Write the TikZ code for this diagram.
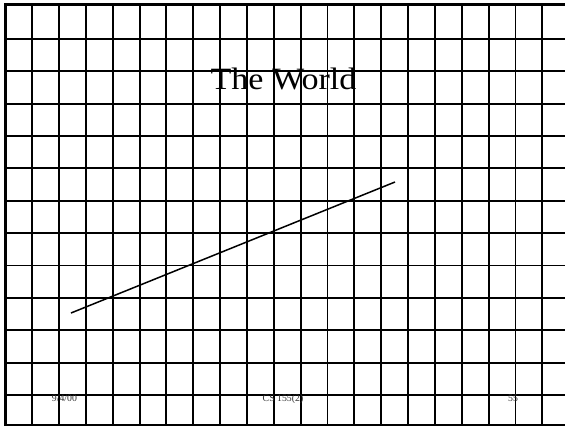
\documentclass[tikz,border=0pt]{standalone}
\usepackage{fontspec}
\setmainfont{Liberation Serif}
\usepackage{xcolor}
\usepackage{tikz}
\usetikzlibrary{positioning}

\begin{document}
\begin{tikzpicture}[x=1pt, y=-1pt, every node/.style={font=\rmfamily}]
    % Styles
    \tikzstyle{gridline} = [draw=black, line width=1.9pt]
    \tikzstyle{framebar} = [draw=black, line width=2.8pt]
    \tikzstyle{titletext} = [font=\fontsize{31}{31}\selectfont, xscale=1.1, inner sep=0pt, anchor=base]
    \tikzstyle{footer} = [font=\fontsize{9.8}{9.8}\selectfont, text=black!80, inner sep=0pt, anchor=base]
    \tikzstyle{worldline} = [draw=black, line width=1.5pt]

    \useasboundingbox (0,0) rectangle (565,426);
    \fill[white] (0,0) rectangle (565,426);

    % Grid
    \foreach \i in {0,...,20}
        \draw[gridline] ({5.3+26.85*\i},4) -- ({5.3+26.85*\i},425);
    \foreach \j in {0,...,11}
        \draw[gridline] (5,{39+32.36*\j}) -- (565,{39+32.36*\j});
    \draw[framebar] (4,4.5) -- (565,4.5);
    \draw[framebar] (5.3,3) -- (5.3,426);
    \draw[gridline, line width=1.1pt] (5,425) -- (565,425);

    % Nodes
    \node[titletext] (title) at (283.5,89) {The World};
    \node[footer] (date) at (64.4,401.5) {9/4/00};
    \node[footer] (course) at (283,401.5) {CS 155(2)};
    \node[footer] (page) at (513,401.5) {55};

    % Line
    \coordinate (start) at (71,313);
    \coordinate (end) at (395,182);
    \draw[worldline] (start) -- (end);
\end{tikzpicture}
\end{document}
